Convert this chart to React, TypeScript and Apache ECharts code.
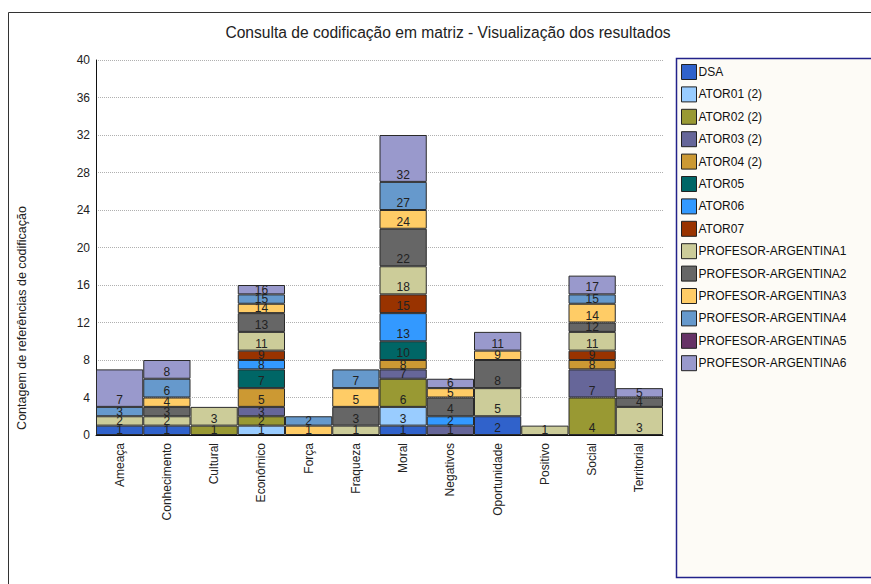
import React, { useEffect, useRef } from "react";
import * as echarts from "echarts";

const categories = [
  "Ameaça", "Conhecimento", "Cultural", "Econômico", "Força", "Fraqueza",
  "Moral", "Negativos", "Oportunidade", "Positivo", "Social", "Territorial",
];

const seriesNames = [
  "DSA", "ATOR01 (2)", "ATOR02 (2)", "ATOR03 (2)", "ATOR04 (2)", "ATOR05",
  "ATOR06", "ATOR07", "PROFESOR-ARGENTINA1", "PROFESOR-ARGENTINA2",
  "PROFESOR-ARGENTINA3", "PROFESOR-ARGENTINA4", "PROFESOR-ARGENTINA5",
  "PROFESOR-ARGENTINA6",
];

const dsa = [1, 1, 0, 0, 0, 0, 1, 0, 2, 0, 0, 0];
const ator01 = [0, 0, 0, 1, 0, 0, 2, 0, 0, 0, 0, 0];
const ator02 = [0, 0, 1, 1, 0, 0, 3, 0, 0, 0, 4, 0];
const ator03 = [0, 0, 0, 1, 0, 0, 1, 1, 0, 0, 3, 0];
const ator04 = [0, 0, 0, 2, 0, 0, 1, 0, 0, 0, 1, 0];
const ator05 = [0, 0, 0, 2, 0, 0, 2, 0, 0, 0, 0, 0];
const ator06 = [0, 0, 0, 1, 0, 0, 3, 1, 0, 0, 0, 0];
const ator07 = [0, 0, 0, 1, 0, 0, 2, 0, 0, 0, 1, 0];
const profArg1 = [1, 1, 2, 2, 0, 1, 3, 0, 3, 1, 2, 3];
const profArg2 = [0, 1, 0, 2, 0, 2, 4, 2, 3, 0, 1, 1];
const profArg3 = [0, 1, 0, 1, 1, 2, 2, 1, 1, 0, 2, 0];
const profArg4 = [1, 2, 0, 1, 1, 2, 3, 0, 0, 0, 1, 0];
const profArg5 = [0, 0, 0, 0, 0, 0, 0, 0, 0, 0, 0, 0];
const profArg6 = [4, 2, 0, 1, 0, 0, 5, 1, 2, 0, 2, 1];

const seriesValues = [
  dsa, ator01, ator02, ator03, ator04, ator05, ator06, ator07,
  profArg1, profArg2, profArg3, profArg4, profArg5, profArg6,
];

const seriesColors = [
  "#3062CB", "#99CCFF", "#999933", "#666699", "#CC9933", "#006666",
  "#3399FF", "#993300", "#CCCC99", "#666666", "#FFCC66", "#6699CC",
  "#663366", "#9999CC",
];

const yTicks = { min: 0, max: 40, interval: 4 };

const FONT = "Arial, 'Liberation Sans', sans-serif";

const WIDTH = 871;
const HEIGHT = 584;
const GRID = { left: 96, right: 208, top: 60, bottom: 149 };

export default function App() {
  const ref = useRef<HTMLDivElement>(null);

  useEffect(() => {
    if (!ref.current) return;
    const chart = echarts.init(ref.current, undefined, { renderer: "svg" });

    const plotHeight = HEIGHT - GRID.top - GRID.bottom;
    const pxPerUnit = plotHeight / (yTicks.max - yTicks.min);

    // running totals so each segment shows the stack height at its top
    const running = categories.map(() => 0);
    const series = seriesValues.map((vals, si) => {
      const data = vals.map((v, ci) => {
        if (!v) return null;
        running[ci] += v;
        // label sits 7px above the segment base, or centred in short segments
        const h = v * pxPerUnit;
        const fromBottom = Math.min(7, h / 2);
        const pct = ((h - fromBottom) / h) * 100;
        return {
          value: v,
          cum: running[ci],
          label: { position: ["50%", pct + "%"] },
        };
      });
      return {
        name: seriesNames[si],
        type: "bar",
        stack: "total",
        barCategoryGap: "0%",
        // each layer sits above the one below it, so its fill covers
        // the overflow of the lower segment's label
        z: 2 + si,
        data,
        itemStyle: { color: seriesColors[si], borderColor: "#2a2a2a", borderWidth: 1 },
        label: {
          show: true,
          align: "center",
          verticalAlign: "middle",
          color: "#222",
          fontFamily: FONT,
          fontSize: 12,
          formatter: (p: any) => String(p.data.cum),
        },
      };
    });

    chart.setOption({
      animation: false,
      backgroundColor: "#ffffff",
      color: seriesColors,
      title: {
        text: "Consulta de codificação em matriz - Visualização dos resultados",
        left: 443,
        textAlign: "center",
        top: 19,
        textStyle: { fontFamily: FONT, fontSize: 15.6, fontWeight: "normal", color: "#222" },
      },
      grid: GRID,
      xAxis: {
        type: "category",
        data: categories,
        axisLine: { lineStyle: { color: "#111", width: 1 } },
        axisTick: { show: false },
        axisLabel: {
          rotate: 90,
          margin: 8,
          fontFamily: FONT,
          fontSize: 12,
          color: "#222",
          interval: 0,
        },
      },
      yAxis: {
        type: "value",
        min: yTicks.min,
        max: yTicks.max,
        interval: yTicks.interval,
        axisLine: { show: true, lineStyle: { color: "#111", width: 1 } },
        axisTick: { show: false },
        axisLabel: { fontFamily: FONT, fontSize: 12, color: "#222", margin: 6 },
        splitLine: { lineStyle: { color: "#b0b0b0", type: "dotted", width: 1 } },
      },
      legend: {
        orient: "vertical",
        left: 676,
        top: 59,
        itemWidth: 15,
        itemHeight: 15,
        itemGap: 6.4,
        icon: "rect",
        data: seriesNames,
        itemStyle: { borderColor: "#222", borderWidth: 1 },
        textStyle: { fontFamily: FONT, fontSize: 12, color: "#111", padding: [0, 0, 0, -3] },
      },
      graphic: [
        {
          type: "polyline",
          silent: true,
          z: -1,
          shape: { points: [[8.5, 590], [8.5, 12.5], [880, 12.5]] },
          style: { stroke: "#333", lineWidth: 1, fill: "none" },
        },
        {
          type: "rect",
          silent: true,
          z: -1,
          shape: { x: 676.5, y: 58.5, width: 220, height: 519 },
          style: { fill: "#FDFBF6", stroke: "#22228A", lineWidth: 1.5 },
        },
        {
          type: "text",
          silent: true,
          x: 22,
          y: 318,
          rotation: Math.PI / 2,
          style: {
            text: "Contagem de referências de codificação",
            fontFamily: FONT,
            fontSize: 12.5,
            fill: "#222",
            align: "center",
            verticalAlign: "middle",
          },
        },
      ],
      series,
    });

    return () => chart.dispose();
  }, []);

  return (
    <div
      ref={ref}
      style={{ position: "fixed", left: 0, top: 0, width: WIDTH, height: HEIGHT }}
    />
  );
}
